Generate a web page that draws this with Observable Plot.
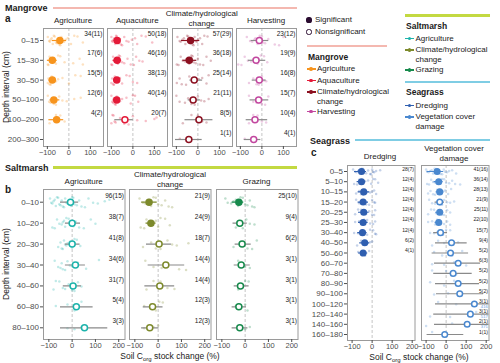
<!DOCTYPE html>
<html><head><meta charset="utf-8">
<script src="https://cdn.jsdelivr.net/npm/d3@7"></script>
<script src="https://cdn.jsdelivr.net/npm/@observablehq/plot@0.6"></script>
<style>
html,body{margin:0;padding:0;background:#fff;}
#root{position:relative;width:500px;height:363px;overflow:hidden;background:#fff;font-family:'Liberation Sans',Arial,Helvetica,sans-serif;}
#root svg{position:absolute;overflow:visible;}
</style>
</head><body><div id="root"></div>
<script>
// ---------- data ----------
const mangroveRows = ["0–15","15–30","30–50","50–100","100–200","200–300"];
const saltmarshRows = ["0–10","10–20","20–30","30–40","40–60","60–80","80–100"];
const seagrassRows = ["0–5","5–10","10–15","15–20","20–25","25–30","30–40","40–50","50–60","60–70","70–80","80–90","90–100","100–120","120–140","140–160","160–180"];

const ticksMangrove = [-100, 0, 100];
const ticksWide = [-100, 0, 100, 200];

const colMgAgri = "#f7941d", colMgAqua = "#e41a38", colMgClim = "#8c1020", colMgHarv = "#c2479f";
const colSmAgri = "#1cb3ab", colSmClim = "#7d8a2c", colSmGraz = "#178a4c";
const colSgDred = "#2f5fb0", colSgVeg = "#4a88cf";
const colLineMg = "#f4b8b0", colLineSm = "#c3d941", colLineSg = "#7fcde4";

const mgAgri = {mean:[-42,-77,-77,-70,-57], lo:[-77,-100,-93,-88,-93], hi:[-11,-54,-58,-42,-24], sig:[1,1,1,1,1],
  n:["34(11)","17(6)","15(5)","12(6)","4(2)"],
  raw:[[-98,-92,-88,-85,-80,-75,-70,-66,-60,-55,-50,-45,-40,-35,-30,-22,-15,-5,10,25,40,65],
       [-98,-95,-90,-85,-80,-75,-70,-60,-50,-40,-20,20,50,65],
       [-98,-95,-90,-85,-80,-70,-60,-50,-30,0,30,55],
       [-98,-92,-85,-78,-70,-60,-45,-30,-10,25,55],
       [-90,-60,-40,-20]]};
const mgAqua = {mean:[-73,-73,-75,-75,-37], lo:[-88,-92,-90,-92,-84], hi:[-58,-52,-60,-58,2], sig:[1,1,1,1,0],
  n:["50(18)","46(16)","38(13)","40(14)","20(7)"],
  raw:[[-100,-97,-94,-90,-86,-82,-78,-75,-70,-65,-60,-55,-50,-40,-30,-20,-5,10,20,40,60,90],
       [-100,-96,-92,-88,-84,-80,-75,-70,-65,-60,-50,-40,-25,-10,5,15,30,45],
       [-100,-96,-92,-88,-84,-80,-75,-70,-60,-50,-30,-15,0,20],
       [-100,-96,-92,-88,-84,-80,-75,-70,-60,-50,-30,-10,0,10,25],
       [-100,-95,-90,-85,-80,-60,-40,-20,0,20,60,100,110]]};
const mgClim = {mean:[-34,-40,-17,-22,5,-42], lo:[-76,-70,-37,-45,-60,-104], hi:[9,-5,22,12,70,20], sig:[1,1,0,0,0,0],
  n:["57(29)","36(18)","25(14)","21(11)","8(5)","1(1)"],
  raw:[[-95,-85,-80,-72,-65,-58,-50,-45,-40,-35,-30,-25,-20,-15,-10,-5,0,10,20,30,45],
       [-98,-90,-80,-70,-60,-55,-45,-40,-30,-25,-20,-10,0,10,25,40,60],
       [-98,-85,-75,-55,-40,-25,-10,5,20,40,50],
       [-100,-85,-60,-45,-30,-15,0,15,30,50],
       [-70,-30,0,20,40],
       [-84]]};
const mgHarv = {mean:[-12,-27,-12,-15,-32,-38], lo:[-50,-63,-45,-55,-73,-82], hi:[32,18,20,32,27,-5], sig:[0,0,0,0,0,0],
  n:["23(12)","19(9)","16(8)","15(7)","10(4)","4(1)"],
  raw:[[-70,-55,-45,-35,-30,-20,-10,0,5,15,30,60,80,100],
       [-110,-95,-80,-65,-50,-40,-30,-20,-5,10,25],
       [-60,-40,-25,-15,0,10,20],
       [-60,-40,-25,-10,0,15,30],
       [-60,-40,-20,0,20],
       [-80,-40]]};

const smAgri = {mean:[-7,0,0,14,4,18,53], lo:[-50,-29,-29,-29,-38,-50,-50], hi:[28,36,34,57,40,90,153], sig:[0,0,0,0,0,0,0],
  n:["96(15)","38(7)","41(8)","34(6)","31(7)","5(4)","3(3)"],
  raw:[[-95,-90,-85,-80,-75,-70,-65,-60,-55,-50,-45,-40,-35,-30,-25,-20,-15,-10,-5,0,5,10,20,30,40,55,70,90,110,140,160],
       [-85,-75,-65,-55,-45,-40,-35,-30,-25,-15,-5,5,15,30,50,80,100],
       [-60,-50,-45,-40,-35,-30,-25,-20,-10,0,10,20,35],
       [-75,-60,-50,-45,-40,-30,-20,-10,0,10,25,60,115],
       [-80,-70,-55,-40,-30,-15,0,10,25,40],
       [-70,-20,10,40],
       [-20,10,40]]};
const smClim = {mean:[-39,-31,4,33,7,-24,-36], lo:[-71,-52,-50,-43,-57,-64,-71], hi:[-4,-9,57,114,71,21,4], sig:[1,1,0,0,0,0,0],
  n:["21(9)","24(9)","18(7)","14(4)","14(4)","12(3)","12(3)"],
  raw:[[-80,-65,-55,-45,-40,-30,-20,-10,0,15,30,45,60],
       [-75,-60,-50,-40,-30,-20,-10,0,10,30,50],
       [-65,-30,-10,10,40,60,80,130],
       [-55,-20,15,40,90,120],
       [-50,-20,10,40,70],
       [-60,-30,-10,5,20],
       [-60,-40,-20,0]]};
const smGraz = {mean:[-27,-23,-13,-17,-20,-27,-23], lo:[-56,-52,-43,-47,-47,-56,-56], hi:[-6,9,26,22,17,6,12], sig:[1,0,0,0,0,0,0],
  n:["25(10)","9(4)","6(2)","3(1)","3(1)","3(1)","3(1)"],
  raw:[[-85,-75,-60,-50,-40,-30,-20,-10,0,10,20,30,40],
       [-40,-10,5,20,40],
       [-50,-10,10,30,50],
       [-30,0,20],
       [-30,0,15],
       [-40,0,10],
       [-30,0,20]]};

const sgDred = {mean:[-53,-53,-42,-45,-42,-45,-48,-37,-45], lo:[-88,-75,-70,-70,-68,-68,-72,-62,-68], hi:[-28,-32,-12,-18,-15,-20,-25,-12,-22], sig:[1,1,1,1,1,1,1,1,1],
  n:["28(7)","12(4)","12(4)","12(4)","12(4)","12(4)","12(4)","6(2)","4(1)"],
  raw:[[-95,-85,-78,-70,-65,-58,-52,-45,-40,-30,-20,-10,-5,0,5,10,20,40],
       [-90,-75,-65,-55,-45,-35,-20,-5,5,15,30],
       [-80,-65,-55,-45,-35,-25,-10,0,10,20],
       [-80,-65,-50,-40,-30,-15,0,10,15],
       [-85,-70,-55,-45,-30,-15,0,10,15],
       [-85,-65,-50,-40,-25,-10,5,15],
       [-90,-70,-55,-40,-25,-10,5,15,20],
       [-75,-55,-40,-25,-10,0],
       [-70,-50,-35,-15]]};
const sgVeg = {mean:[-45,-37,-32,-32,-32,-37,-28,27,22,60,35,60,68,141,121,105,-7],
  lo:[-95,-60,-50,-55,-52,-55,-62,-53,-70,-58,-62,-53,-48,-53,-62,-58,-95],
  hi:[-12,-15,-12,-8,-12,-18,7,105,112,172,130,167,187,416,517,371,88],
  sig:[1,1,1,0,1,1,0,0,0,0,0,0,0,0,0,0,0],
  n:["41(16)","36(14)","28(13)","21(9)","25(11)","22(10)","15(7)","9(4)","5(2)","6(3)","5(2)","5(2)","5(2)","3(1)","3(1)","2(1)","1(1)"],
  raw:[[-100,-95,-88,-80,-72,-65,-58,-50,-45,-40,-35,-28,-20,-12,-5,5,15,30,50],
       [-95,-85,-75,-65,-55,-45,-38,-30,-20,-10,0,15,30,45,70],
       [-90,-78,-65,-55,-45,-35,-25,-15,-5,10,25],
       [-85,-70,-55,-40,-30,-20,-10,5,20,40],
       [-90,-75,-60,-50,-40,-30,-20,-10,5,20],
       [-90,-70,-55,-45,-35,-25,-10,5,20],
       [-80,-60,-45,-30,-15,0,20],
       [-70,-40,-10,20,60],
       [-60,-20,30,80],
       [-70,-10,40,100],
       [-70,0,50],
       [-80,-10,40],
       [-60,10,60],
       [-40,50,130],
       [-80,20,150],
       [-100,30],
       [-70]]};
const vegOverRows = [13, 14, 15];
const vegOverText = ["416", "517", "371"];

// ---------- helpers ----------
const root = document.getElementById("root");
const FONT = "'Liberation Sans', Arial, Helvetica, sans-serif";
const JIT = [-0.22, 0.12, -0.05, 0.26, -0.3, 0.03, 0.18, -0.14, 0.3, -0.26, 0.08, -0.1, 0.22];
const SUB = "<span style='font-size:6px;position:relative;top:2px'>org</span>";

function txt(x, y, s, o = {}) {
  const el = document.createElement("div");
  el.innerHTML = s;
  Object.assign(el.style, {
    position: "absolute", left: x + "px", top: y + "px",
    fontSize: (o.size || 8) + "px", fontWeight: o.bold ? "bold" : "normal",
    color: o.color || "#1a1a1a", whiteSpace: "nowrap", lineHeight: "1",
    transform: o.rotate ? "translate(-50%,-50%) rotate(-90deg)" : (o.anchor === "middle" ? "translate(-50%,-50%)" : "translate(0,-50%)")
  });
  root.appendChild(el);
}
function hline(x0, x1, y, color, t = 2) {
  const el = document.createElement("div");
  Object.assign(el.style, {position: "absolute", left: x0 + "px", top: (y - t / 2) + "px", width: (x1 - x0) + "px", height: t + "px", background: color});
  root.appendChild(el);
}
function circ(x, y, r, fill, stroke, sw) {
  const el = document.createElement("div");
  Object.assign(el.style, {position: "absolute", left: (x - r) + "px", top: (y - r) + "px", width: (2 * r) + "px", height: (2 * r) + "px",
    borderRadius: "50%", background: fill, boxSizing: "border-box", border: sw ? `${sw}px solid ${stroke}` : "none"});
  root.appendChild(el);
}
function legItem(x, y, color, label) {
  hline(x, x + 9, y, color, 1.2);
  circ(x + 4.5, y, 1.8, color);
  txt(x + 10.5, y, label, {size: 8});
}

function panel(c) {
  const mL = c.showY ? 48 : 1, mR = 1, mT = 1, mB = 16;
  const n = c.rows.length, d = c.d;
  const stats = d.mean.map((m, i) => ({row: i, m, lo: d.lo[i], hi: d.hi[i], sig: d.sig[i], lab: d.n[i]}));
  const raw = d.raw.flatMap((arr, i) => arr.map((x, j) => ({x, y: i + JIT[(j * 5 + i * 3) % JIT.length] * c.jit})));
  const extra = c.over ? c.over.rows.map((r, k) => ({row: r, t: c.over.text[k]})) : [];
  const chart = Plot.plot({
    width: mL + c.w + mR, height: mT + c.h + mB,
    marginLeft: mL, marginRight: mR, marginTop: mT, marginBottom: mB,
    x: {domain: c.domain, label: null},
    y: {domain: [0, n - 1], range: [c.r0 - c.top + mT, c.r1 - c.top + mT], axis: null, label: null},
    style: {fontFamily: FONT, background: "transparent", overflow: "visible"},
    marks: [
      Plot.ruleX([0], {stroke: "#b5b5b5", strokeWidth: 0.8, strokeDasharray: "3,2"}),
      Plot.dot(raw, {x: "x", y: "y", r: 1.25, fill: c.color, fillOpacity: 0.28, clip: true}),
      Plot.ruleY(stats, {y: "row", x1: "lo", x2: "hi", stroke: s => s.sig ? c.color : "#8a8a8a", strokeWidth: 1.2, clip: true}),
      Plot.dot(stats, {x: "m", y: "row", r: c.dotR, fill: s => s.sig ? c.color : "white", stroke: c.color, strokeWidth: 1.5}),
      Plot.text(stats, {x: () => c.domain[1], y: "row", text: "lab", textAnchor: "end", dx: -1, dy: c.labDy, fontSize: c.labSize, fill: "#1a1a1a"}),
      Plot.text(extra, {x: () => c.domain[1], y: "row", text: "t", textAnchor: "end", dx: -1, dy: 2.6, fontSize: 4.3, fill: "#6a9ee0"}),
      Plot.frame({stroke: "#9a9a9a", strokeWidth: 1}),
      Plot.axisX({ticks: c.ticks, tickSize: 3, tickPadding: 0.5, fontSize: 7.5, label: null, color: "#4d4d4d"}),
      c.showY ? Plot.axisY({ticks: d3.range(n), tickFormat: i => c.rows[i], tickSize: 3, tickPadding: 1.5, fontSize: 8, label: null, color: "#4d4d4d"}) : null
    ]
  });
  chart.style.left = (c.left - mL) + "px";
  chart.style.top = (c.top - mT) + "px";
  root.appendChild(chart);
}

// ---------- Mangrove ----------
txt(5, 8, "Mangrove", {size: 9, bold: true});
hline(53, 297, 7.5, colLineMg, 2);
txt(5, 18.5, "a", {size: 10, bold: true});
const mgDom = [-118, 161];
const mgBase = {top: 28, h: 118, r0: 40, r1: 139, w: 60, domain: mgDom, ticks: ticksMangrove, rows: mangroveRows, dotR: 3, labSize: 6.5, labDy: -7, jit: 0.8};
panel({...mgBase, left: 43, color: colMgAgri, d: mgAgri, showY: true});
panel({...mgBase, left: 107.3, color: colMgAqua, d: mgAqua});
panel({...mgBase, left: 171.7, color: colMgClim, d: mgClim});
panel({...mgBase, left: 236, color: colMgHarv, d: mgHarv});
txt(73, 21, "Agriculture", {anchor: "middle"});
txt(137.3, 21, "Aquaculture", {anchor: "middle"});
txt(201.7, 14, "Climate/hydrological", {anchor: "middle"});
txt(201.7, 24, "change", {anchor: "middle"});
txt(266, 21, "Harvesting", {anchor: "middle"});
txt(6, 87, "Depth interval (cm)", {rotate: true, size: 8.5, color: "#1a1a1a"});

// ---------- Saltmarsh ----------
txt(5, 168, "Saltmarsh", {size: 9, bold: true});
hline(53, 297, 167.5, colLineSm, 2.2);
txt(5, 190, "b", {size: 10, bold: true});
const smBase = {top: 189, h: 150, r0: 201.7, r1: 327.3, w: 81.5, domain: [-123, 227], ticks: ticksWide, rows: saltmarshRows, dotR: 3, labSize: 6.5, labDy: -6.5, jit: 0.8};
panel({...smBase, left: 43, color: colSmAgri, d: smAgri, showY: true});
panel({...smBase, left: 129.3, color: colSmClim, d: smClim});
panel({...smBase, left: 215.7, color: colSmGraz, d: smGraz});
txt(83.7, 182, "Agriculture", {anchor: "middle"});
txt(170, 175, "Climate/hydrological", {anchor: "middle"});
txt(170, 185, "change", {anchor: "middle"});
txt(256.5, 182, "Grazing", {anchor: "middle"});
txt(6, 264, "Depth interval (cm)", {rotate: true, size: 8.5});
txt(170, 356, "Soil C" + SUB + " stock change (%)", {anchor: "middle", size: 8.5});

// ---------- Seagrass ----------
txt(310, 140.5, "Seagrass", {size: 9, bold: true});
hline(355, 490, 140, colLineSg, 2.2);
txt(311, 153, "c", {size: 10, bold: true});
const sgBase = {top: 165, h: 175, r0: 171, r1: 334, w: 67.5, domain: [-123, 214], ticks: ticksWide, rows: seagrassRows, dotR: 2.8, labSize: 5, labDy: -2.6, jit: 0.9};
panel({...sgBase, left: 346.5, color: colSgDred, d: sgDred, showY: true});
panel({...sgBase, left: 420.5, color: colSgVeg, d: sgVeg, over: {rows: vegOverRows, text: vegOverText}});
txt(380, 157, "Dredging", {anchor: "middle"});
txt(454, 149, "Vegetation cover", {anchor: "middle"});
txt(454, 159, "damage", {anchor: "middle"});
txt(419, 356.5, "Soil C" + SUB + " stock change (%)", {anchor: "middle", size: 8.5});

// ---------- Legend ----------
circ(309, 20, 2.6, "#2a0c30");
txt(315, 20, "Significant", {size: 8});
circ(309, 32, 2.6, "white", "#2a0c30", 1.3);
txt(315, 32, "Nonsignificant", {size: 8});

hline(307, 387, 46, colLineMg, 2);
txt(308, 56.5, "Mangrove", {size: 8.5, bold: true});
legItem(306.5, 69, colMgAgri, "Agriculture");
legItem(306.5, 80.5, colMgAqua, "Aquaculture");
legItem(306.5, 92, colMgClim, "Climate/hydrological");
txt(317, 102, "change", {size: 8});
legItem(306.5, 111.5, colMgHarv, "Harvesting");

hline(405, 490, 15.5, colLineSm, 2.2);
txt(406, 25.5, "Saltmarsh", {size: 8.5, bold: true});
legItem(405, 38.5, colSmAgri, "Agriculture");
legItem(405, 50, colSmClim, "Climate/hydrological");
txt(415.5, 60, "change", {size: 8});
legItem(405, 70, colSmGraz, "Grazing");

hline(405, 490, 82, colLineSg, 2.2);
txt(406, 92, "Seagrass", {size: 8.5, bold: true});
legItem(405, 105.5, colSgDred, "Dredging");
legItem(405, 117, colSgVeg, "Vegetation cover");
txt(415.5, 127, "damage", {size: 8});
</script>
</body></html>
